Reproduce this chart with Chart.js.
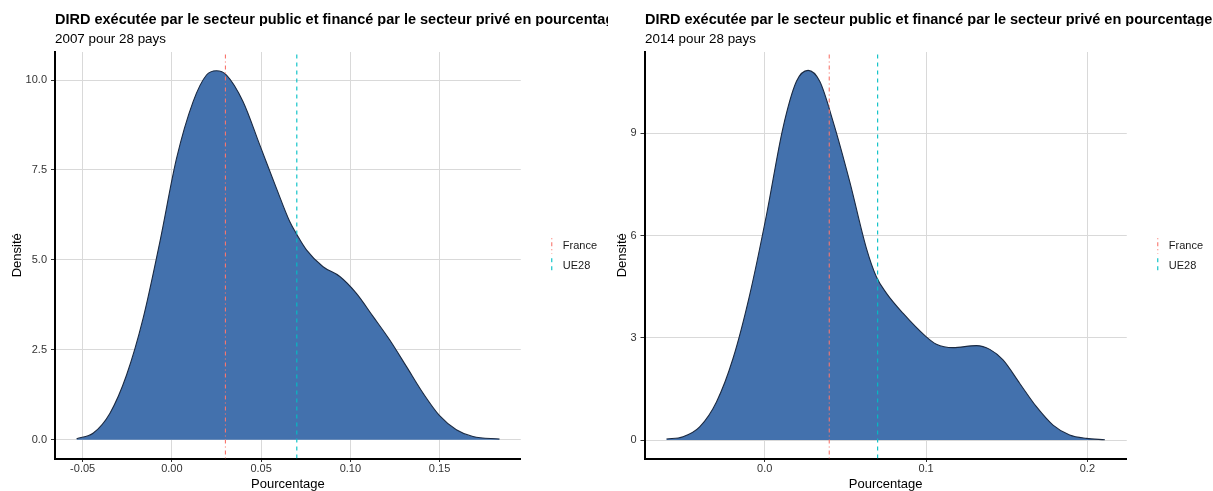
<!DOCTYPE html>
<html lang="fr">
<head>
<meta charset="UTF-8">
<title>DIRD exécutée par le secteur public et financé par le secteur privé</title>
<script src="https://cdn.jsdelivr.net/npm/chart.js"></script>
<style>
  body { margin: 0; background: #fff; font-family: 'Liberation Sans', Arial, sans-serif; }
  #page { position: relative; width: 1213px; height: 491px; overflow: hidden; background: #fff; }
  .panel { position: absolute; top: 0; width: 607px; height: 491px; }
  .panel canvas { position: absolute; left: 0; top: 0; }
  .titre { position: absolute; top: 11.5px; font-size: 14.5px; font-weight: bold; line-height: 1; white-space: nowrap; overflow: hidden; color: #000; }
  .soustitre { position: absolute; top: 31.5px; font-size: 13.4px; line-height: 1; white-space: nowrap; color: #000; }
</style>
</head>
<body>
<div id="page">
  <div class="panel" style="left:0">
    <canvas id="chart2007" width="607" height="491"></canvas>
    <div class="titre" style="left:55px; width:553px">DIRD exécutée par le secteur public et financé par le secteur privé en pourcentage</div>
    <div class="soustitre" style="left:55px">2007 pour 28 pays</div>
  </div>
  <div class="panel" style="left:606px">
    <canvas id="chart2014" width="607" height="491"></canvas>
    <div class="titre" style="left:39px">DIRD exécutée par le secteur public et financé par le secteur privé en pourcentage</div>
    <div class="soustitre" style="left:39px">2014 pour 28 pays</div>
  </div>
</div>

<script>
// lignes de référence
const refNames = ['France', 'UE28'];
const refColors = ['#F8766D', '#00BFC4'];
const refDashes = [[1, 3, 4, 3], [4, 4]];

// 2007
const x2007 = [-0.0534, -0.044, -0.0347, -0.0254, -0.0161, -0.0067, 0.0026, 0.0119, 0.0194, 0.025, 0.0306, 0.0399,
  0.0493, 0.0586, 0.0661, 0.0702, 0.0754, 0.0847, 0.0941, 0.1034, 0.1127, 0.122, 0.1314, 0.1407, 0.150, 0.1594, 0.1687, 0.1836];
const dens2007 = [0.03, 0.19, 0.74, 1.80, 3.38, 5.51, 7.82, 9.40, 10.14, 10.26, 10.14, 9.40,
  8.19, 6.99, 6.06, 5.69, 5.28, 4.81, 4.54, 4.07, 3.43, 2.78, 2.04, 1.30, 0.67, 0.28, 0.09, 0.02];
const ref2007 = [0.03, 0.07];
const xTicks2007 = [-0.05, 0, 0.05, 0.10, 0.15];
const xLabels2007 = ['-0.05', '0.00', '0.05', '0.10', '0.15'];
const yTicks2007 = [0, 2.5, 5, 7.5, 10];
const yLabels2007 = ['0.0', '2.5', '5.0', '7.5', '10.0'];
const xRange2007 = [-0.0655, 0.1955];
const yRange2007 = [-0.52, 10.78];

// 2014
const x2014 = [-0.0609, -0.0506, -0.0403, -0.0299, -0.0196, -0.0093, 0.0011, 0.0113, 0.0197, 0.0269, 0.0341, 0.0424,
  0.0527, 0.0630, 0.0692, 0.0754, 0.0857, 0.0998, 0.1064, 0.1167, 0.1312, 0.1395, 0.1477, 0.1581, 0.1684, 0.1787, 0.189, 0.1994, 0.2108];
const dens2014 = [0.03, 0.10, 0.39, 1.12, 2.40, 4.26, 6.60, 9.15, 10.52, 10.84, 10.52, 9.34,
  7.58, 5.63, 4.79, 4.31, 3.72, 3.04, 2.81, 2.71, 2.77, 2.66, 2.35, 1.66, 0.98, 0.44, 0.15, 0.05, 0.01];
const ref2014 = [0.04, 0.07];
const xTicks2014 = [0, 0.1, 0.2];
const xLabels2014 = ['0.0', '0.1', '0.2'];
const yTicks2014 = [0, 3, 6, 9];
const yLabels2014 = ['0', '3', '6', '9'];
const xRange2014 = [-0.0745, 0.2244];
const yRange2014 = [-0.54, 11.38];

Chart.defaults.font.family = "'Liberation Sans', Arial, sans-serif";
Chart.defaults.color = '#333';

function densityChart(canvasId, xs, ys, refs, xTicks, xLabels, yTicks, yLabels, xRange, yRange, yAxisWidth, yTitlePad) {
  const datasets = refNames.map((name, i) => ({
    label: name,
    data: [{ x: refs[i], y: yRange[0] }, { x: refs[i], y: yRange[1] }],
    borderColor: refColors[i],
    borderDash: refDashes[i],
    borderWidth: 1.1,
    pointRadius: 0,
    fill: false,
    order: 0
  }));
  datasets.push({
    label: '',
    data: xs.map((x, i) => ({ x: x, y: ys[i] })),
    borderColor: '#1b2a42',
    borderWidth: 1.1,
    backgroundColor: '#4371ad',
    fill: 'origin',
    pointRadius: 0,
    cubicInterpolationMode: 'monotone',
    order: 1
  });

  const ctx = document.getElementById(canvasId).getContext('2d');
  return new Chart(ctx, {
    type: 'line',
    data: { datasets },
    options: {
      responsive: false,
      animation: false,
      events: [],
      layout: { padding: { top: 21, right: 0, bottom: 0, left: 0 } },
      plugins: {
        tooltip: { enabled: false },
        legend: {
          position: 'right',
          align: 'center',
          labels: {
            usePointStyle: true,
            boxWidth: 11,
            boxHeight: 11,
            padding: 9,
            color: '#1a1a1a',
            font: { size: 11 },
            generateLabels: () => refNames.map((name, i) => ({
              text: name,
              strokeStyle: refColors[i],
              fillStyle: refColors[i],
              lineDash: refDashes[i],
              lineWidth: 1.1,
              pointStyle: 'line',
              rotation: 90,
              fontColor: '#1a1a1a',
              hidden: false,
              datasetIndex: i
            }))
          }
        }
      },
      scales: {
        x: {
          type: 'linear',
          position: 'bottom',
          min: xRange[0],
          max: xRange[1],
          afterBuildTicks: s => { s.ticks = xTicks.map(v => ({ value: v })); },
          afterFit: s => { s.height = 32.5; },
          grid: { color: '#d9d9d9', tickColor: '#333', tickLength: 3.5 },
          border: { display: true, color: '#000', width: 2 },
          ticks: { autoSkip: false, maxRotation: 0, padding: 0.5, font: { size: 11 },
            callback: (v, i) => xLabels[i] },
          title: { display: true, text: 'Pourcentage', color: '#000',
            font: { size: 13, lineHeight: 1 }, padding: { top: 0, bottom: 0 } }
        },
        y: {
          type: 'linear',
          position: 'left',
          min: yRange[0],
          max: yRange[1],
          afterBuildTicks: s => { s.ticks = yTicks.map(v => ({ value: v })); },
          afterFit: s => { s.width = yAxisWidth; },
          grid: { color: '#d9d9d9', tickColor: '#333', tickLength: 4 },
          border: { display: true, color: '#000', width: 2 },
          ticks: { autoSkip: false, padding: 4, font: { size: 11 },
            callback: (v, i) => yLabels[i] },
          title: { display: true, text: 'Densité', color: '#000',
            font: { size: 13, lineHeight: 1 }, padding: { top: yTitlePad, bottom: 0 } }
        },
        // espaces vides (place du titre et écart avant la légende)
        gapTop: {
          type: 'linear', position: 'top', display: true,
          ticks: { display: false }, grid: { display: false, drawTicks: false }, border: { display: false },
          afterFit: s => { s.height = 31; }
        },
        gapRight: {
          type: 'linear', position: 'right', display: true,
          ticks: { display: false }, grid: { display: false, drawTicks: false }, border: { display: false },
          afterFit: s => { s.width = 16.5; }
        }
      }
    }
  });
}

densityChart('chart2007', x2007, dens2007, ref2007, xTicks2007, xLabels2007, yTicks2007, yLabels2007, xRange2007, yRange2007, 55, 11);
densityChart('chart2014', x2014, dens2014, ref2014, xTicks2014, xLabels2014, yTicks2014, yLabels2014, xRange2014, yRange2014, 38.5, 10);
</script>
</body>
</html>
